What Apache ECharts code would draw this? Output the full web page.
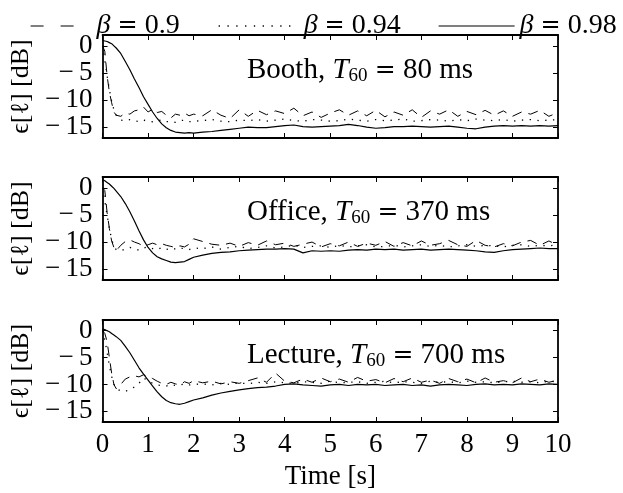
<!DOCTYPE html>
<html><head><meta charset="utf-8">
<script src="https://cdn.jsdelivr.net/npm/echarts/dist/echarts.min.js"></script>
<style>html,body{margin:0;padding:0;background:#fff}#c{width:623px;height:493px}</style>
</head><body><div id="c"></div>
<script>
const times = [0,0.05,0.1,0.15,0.2,0.25,0.3,0.4,0.5,0.6,0.7,0.8,0.9,1.0,1.1,1.2,1.3,1.4,1.5,1.6,1.7,1.8,1.9,2.0,
2.2,2.4,2.6,2.8,3.0,3.2,3.4,3.6,3.8,4.0,4.2,4.4,4.6,4.8,5.0,5.2,5.4,5.6,5.8,6.0,6.2,6.4,6.6,6.8,7.0,7.2,7.4,7.6,7.8,8.0,8.2,8.4,8.6,8.8,9.0,9.2,9.4,9.6,9.8,10];

const seriesNames = ['β = 0.9', 'β = 0.94', 'β = 0.98'];
const panelRooms = ['Booth, ', 'Office, ', 'Lecture, '];
const panelT60 = ['80 ms', '370 ms', '700 ms'];
const yTicks = [-15,-10,-5,0];

// Booth
const boothB090 = [0,-1.0,-5.5,-8.5,-10.5,-12.2,-12.8,
-13.0,-12.4,-12.6,-12.0,-11.8,-11.3,-12.2,-11.7,-12.3,-12.1,-12.8,-13.3,-12.6,-12.8,-12.4,-12.9,-12.6,
-12.9,-11.8,-12.8,-13.4,-11.8,-13.0,-11.9,-12.7,-12.0,-12.5,-11.5,-12.9,-12.2,-13.2,-12.4,-11.8,-12.8,-12.0,-12.9,-11.9,
-13.1,-12.2,-12.8,-11.8,-13.2,-12.0,-12.6,-11.8,-13.0,-12.1,-12.7,-11.9,-12.8,-12.0,-13.0,-12.2,-12.6,-11.9,-13.0,-12.3];
const boothB094 = [0,-2.6,-5.5,-8.1,-10.2,-11.8,-12.8,
-13.7,-13.8,-13.6,-13.8,-14.0,-13.7,-13.9,-14.0,-13.8,-13.7,-14.0,-13.9,-14.1,-13.8,-13.7,-14.0,-13.9,
-13.8,-13.6,-13.9,-14.0,-13.7,-13.8,-13.6,-13.9,-13.7,-13.5,-13.8,-13.9,-13.6,-13.7,-13.9,-13.8,-13.5,-13.7,-13.9,-13.6,
-13.8,-13.7,-13.5,-13.9,-13.8,-13.6,-13.7,-13.9,-13.6,-13.8,-13.5,-13.7,-13.8,-13.6,-13.9,-13.7,-13.6,-13.8,-13.7,-13.6];
const boothB098 = [1.0,0.9,0.8,0.6,0.4,0.0,-0.4,
-1.4,-2.9,-4.4,-6.1,-7.7,-9.4,-10.8,-12.2,-13.4,-14.4,-15.1,-15.6,-15.9,-16.0,-16.1,-16.0,-16.1,
-15.9,-15.8,-15.6,-15.4,-15.2,-15.0,-15.1,-15.1,-14.9,-14.7,-14.6,-14.9,-15.0,-14.9,-14.8,-14.7,-14.5,-14.7,-15.0,-15.2,
-15.1,-14.9,-14.9,-14.8,-14.9,-15.0,-14.9,-14.8,-15.0,-15.2,-15.3,-15.0,-14.8,-14.7,-14.8,-14.7,-14.8,-14.7,-14.8,-14.7];

// Office
const officeB090 = [0,-0.5,-4.5,-7.5,-9.8,-11.0,-11.6,
-10.6,-9.9,-9.6,-10.0,-10.3,-10.8,-10.5,-10.2,-10.5,-10.3,-10.6,-10.8,-11.0,-10.7,-10.9,-10.4,-9.4,
-9.9,-10.4,-10.6,-10.2,-10.8,-10.1,-10.6,-9.8,-10.5,-10.2,-10.8,-10.4,-10.0,-10.9,-10.3,-10.7,-10.0,-10.8,-10.2,-10.6,
-9.9,-10.8,-10.1,-10.7,-9.8,-10.6,-10.3,-9.7,-10.5,-10.8,-9.7,-10.6,-10.9,-10.3,-10.7,-10.0,-9.7,-10.6,-9.8,-10.6];
const officeB094 = [0,-2.5,-5.0,-7.5,-9.5,-10.8,-11.4,
-11.6,-11.3,-11.0,-11.2,-11.5,-11.1,-10.9,-11.2,-11.4,-11.0,-11.3,-11.5,-11.2,-11.0,-11.3,-11.4,-11.1,
-11.2,-10.9,-11.3,-11.0,-10.8,-11.2,-11.0,-10.7,-11.1,-10.9,-10.6,-11.0,-10.8,-10.7,-11.0,-10.6,-10.9,-10.7,-10.5,-10.9,
-10.8,-10.6,-10.9,-10.7,-10.5,-10.8,-10.6,-10.9,-10.7,-10.5,-10.8,-10.6,-10.7,-10.9,-10.6,-10.5,-10.8,-10.6,-10.7,-10.5];
const officeB098 = [1.5,1.3,1.0,0.7,0.3,-0.1,-0.6,
-1.6,-2.9,-4.4,-6.1,-7.9,-9.6,-11.0,-12.0,-12.7,-13.1,-13.4,-13.7,-13.8,-13.7,-13.6,-13.2,-12.8,
-12.4,-12.1,-11.9,-11.8,-11.6,-11.5,-11.4,-11.3,-11.3,-11.2,-11.3,-12.0,-11.6,-11.7,-11.6,-11.7,-11.5,-11.4,-11.5,-11.3,
-11.4,-11.3,-11.5,-11.4,-11.3,-11.5,-11.4,-11.3,-11.4,-11.5,-11.6,-11.8,-11.9,-11.6,-11.4,-11.3,-11.2,-11.1,-11.2,-11.2];

// Lecture
const lectureB090 = [0,-0.5,-2.0,-5.0,-7.9,-10.0,-10.8,
-10.0,-9.0,-8.6,-8.4,-8.6,-8.2,-8.5,-8.9,-9.4,-9.8,-10.0,-9.6,-9.9,-10.1,-9.5,-9.8,-9.3,
-9.7,-9.4,-9.9,-9.5,-9.8,-9.3,-8.8,-9.6,-7.9,-9.4,-9.7,-9.0,-9.6,-8.8,-9.5,-9.0,-9.6,-8.7,-9.4,-9.1,
-9.7,-8.9,-9.5,-8.8,-9.6,-9.2,-9.8,-8.9,-9.5,-9.0,-9.7,-8.8,-9.6,-9.3,-9.7,-8.8,-9.5,-9.0,-9.6,-9.2];
const lectureB094 = [0,-1.7,-4.0,-6.5,-8.5,-10.0,-10.8,
-11.2,-11.3,-10.9,-10.5,-9.8,-8.8,-9.3,-9.8,-10.1,-10.2,-10.3,-10.0,-10.2,-10.1,-9.9,-10.1,-10.0,
-9.9,-10.1,-9.8,-10.0,-9.7,-9.9,-9.6,-9.8,-9.5,-9.7,-9.8,-9.5,-9.6,-9.8,-9.4,-9.7,-9.6,-9.5,-9.8,-9.6,
-9.4,-9.7,-9.5,-9.6,-9.8,-9.4,-9.6,-9.5,-9.7,-9.4,-9.6,-9.5,-9.7,-9.5,-9.4,-9.6,-9.5,-9.7,-9.4,-9.5];
const lectureB098 = [0.3,0.2,0.0,-0.2,-0.5,-0.8,-1.1,
-1.8,-2.9,-4.1,-5.5,-6.9,-8.1,-9.2,-10.3,-11.4,-12.3,-13.0,-13.4,-13.6,-13.7,-13.5,-13.2,-12.9,
-12.5,-12.0,-11.6,-11.3,-11.0,-10.8,-10.6,-10.5,-10.3,-10.0,-9.9,-10.1,-10.2,-10.3,-10.1,-10.0,-10.2,-10.0,-10.1,-10.0,
-10.2,-10.1,-10.0,-10.2,-10.1,-10.3,-10.1,-10.0,-10.1,-10.2,-10.0,-9.9,-10.1,-10.0,-10.1,-9.9,-10.0,-10.1,-9.9,-10.0];

const panels = [
  [boothB090, boothB094, boothB098],
  [officeB090, officeB094, officeB098],
  [lectureB090, lectureB094, lectureB098]
];

const FONT = 'Liberation Serif';
const FS = 27;
const grids = [
  {left:101, top:35, width:457, height:103},
  {left:101, top:177, width:457, height:103},
  {left:101, top:320, width:457, height:102}
];
const titleTops = [54, 196, 339];
const lineStyles = [
  {type:[10,7], width:1},
  {type:[1.3,6.5], width:1.3},
  {type:'solid', width:1.2}
];

const xAxes = [], yAxes = [], series = [], titles = [];
const axLine = {show:true, onZero:false, lineStyle:{color:'#000', width:1.8}};
const tick = {show:true, inside:true, length:5, lineStyle:{color:'#000', width:1}};
grids.forEach((g, i) => {
  xAxes.push({type:'value', gridIndex:i, position:'bottom', min:0, max:10, interval:1,
    axisLine:axLine, axisTick:tick, splitLine:{show:false},
    axisLabel:{show:i===2, color:'#000', fontFamily:FONT, fontSize:FS, margin:9},
    name: i===2 ? 'Time [s]' : '', nameLocation:'middle', nameGap:41,
    nameTextStyle:{color:'#000', fontFamily:FONT, fontSize:FS}});
  xAxes.push({type:'value', gridIndex:i, position:'top', min:0, max:10, interval:1,
    axisLine:axLine, axisTick:tick, splitLine:{show:false}, axisLabel:{show:false}});
  yAxes.push({type:'value', gridIndex:i, position:'left', min:-17, max:2,
    axisLine:axLine, axisTick:Object.assign({customValues:yTicks}, tick), splitLine:{show:false},
    axisLabel:{show:true, customValues:yTicks, color:'#000', fontFamily:FONT, fontSize:FS, margin:10,
      formatter: v => v < 0 ? '\u2212\u2009' + Math.abs(v) : String(v)},
    name:'ϵ[ℓ] [dB]', nameLocation:'middle', nameRotate:90, nameGap:64,
    nameTextStyle:{color:'#000', fontFamily:FONT, fontSize:26}});
  yAxes.push({type:'value', gridIndex:i, position:'right', min:-17, max:2,
    axisLine:axLine, axisTick:Object.assign({customValues:yTicks}, tick), splitLine:{show:false},
    axisLabel:{show:false}});
  panels[i].forEach((vals, k) => {
    series.push({type:'line', name:seriesNames[k], xAxisIndex:2*i, yAxisIndex:2*i,
      data: times.map((t, j) => [t, vals[j]]), symbol:'none', showSymbol:false, silent:true, animation:false,
      itemStyle:{color:'#000'},
      lineStyle:Object.assign({color:'#000'}, lineStyles[k]), z: 3-k});
  });
  titles.push({text:'{a|' + panelRooms[i] + '}{i|T}{s|60}{a| }{e|=}{a| ' + panelT60[i] + '}',
    left:247, top:titleTops[i], padding:0,
    textStyle:{rich:{
      a:{fontFamily:FONT, fontSize:29, fontWeight:'normal', color:'#000', lineHeight:32},
      i:{fontFamily:FONT, fontSize:29, fontWeight:'normal', fontStyle:'italic', color:'#000', lineHeight:32},
      e:{fontFamily:'DejaVu Serif', fontSize:25, fontWeight:'normal', color:'#000', lineHeight:32},
      s:{fontFamily:FONT, fontSize:19, fontWeight:'normal', color:'#000', lineHeight:14, verticalAlign:'bottom'}
    }}});
});

const legendLefts = [25, 213, 433];
const legendWidths = [60, 77, 76];
const legendPads = [1, 3, 0];
const legendDash = [[13,17], [1.3,7.5], 'solid'];
const legends = seriesNames.map((n, k) => ({
  data:[n], left:legendLefts[k], top:7, itemWidth:legendWidths[k], itemHeight:16, itemGap:0,
  selectedMode:false,
  itemStyle:{opacity:0},
  lineStyle:{color:'#000', type:legendDash[k], width:k===1 ? 1.3 : 1.2},
  formatter: name => '{i|β}{a| }{e|=}{a| ' + name.split('= ')[1] + '}',
  textStyle:{padding:[0,0,0,legendPads[k]], rich:{
    i:{fontFamily:FONT, fontSize:28, fontStyle:'italic', color:'#000'},
    e:{fontFamily:'DejaVu Serif', fontSize:24, color:'#000'},
    a:{fontFamily:FONT, fontSize:28, color:'#000'}
  }}
}));

const chart = echarts.init(document.getElementById('c'), null, {renderer:'canvas'});
chart.setOption({
  animation:false,
  backgroundColor:'#fff',
  title:titles,
  legend:legends,
  grid:grids,
  xAxis:xAxes,
  yAxis:yAxes,
  series:series
});
</script>
</body></html>
